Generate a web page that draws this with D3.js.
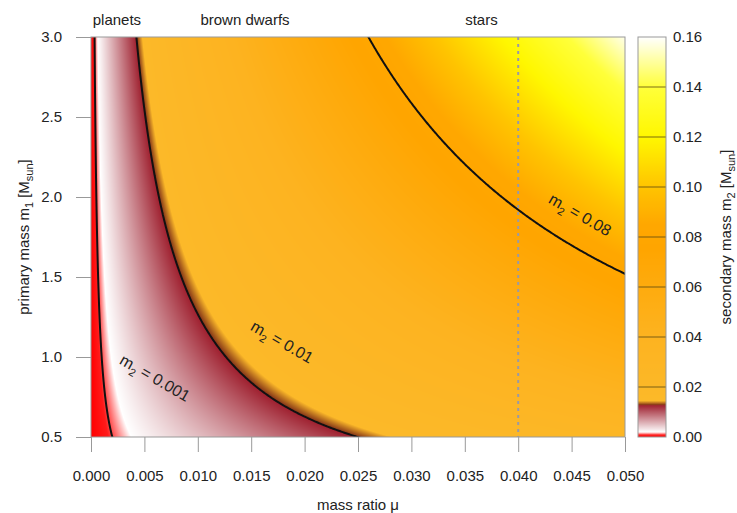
<!DOCTYPE html>
<html>
<head>
<meta charset="utf-8">
<script src="https://cdn.jsdelivr.net/npm/d3@7"></script>
<style>
  body { margin: 0; background: #fff; }
  svg text { font-family: "Liberation Sans", Arial, sans-serif; fill: #222; }
</style>
</head>
<body>
<svg id="chart" width="737" height="513"></svg>
<script>
// axis ticks
const muTicks = [0, 0.005, 0.010, 0.015, 0.020, 0.025, 0.030, 0.035, 0.040, 0.045, 0.050];
const m1Ticks = [0.5, 1.0, 1.5, 2.0, 2.5, 3.0];
const m2Ticks = [0, 0.02, 0.04, 0.06, 0.08, 0.10, 0.12, 0.14, 0.16];

// contour levels (about 1 Jupiter mass, deuterium limit, hydrogen limit) and their labels
const levels = [0.001, 0.0128, 0.08];
const levelNames = ["0.001", "0.01", "0.08"];
const levelLabelMu = [0.0060, 0.0179, 0.0458];
const levelLabelM1 = [0.87, 1.095, 1.89];

// object classes above the plot
const regionNames = ["planets", "brown dwarfs", "stars"];
const regionMu = [0.00243, 0.01442, 0.03656];

// stellar limit marked by the dotted line
const limitMu = 0.04;

// colour map of secondary mass
const stopValues = [0, 0.0008, 0.0019, 0.0128, 0.0130, 0.0145, 0.04, 0.075, 0.085, 0.10, 0.12, 0.14, 0.16];
const stopColors = ["#ff0000", "#ff1a1a", "#ffffff", "#9e1f2e", "#8e4019", "#fcb929", "#fdb320",
                    "#ffa500", "#ffa700", "#ffc400", "#fff700", "#ffff3a", "#ffffff"];

// secondary mass from mass ratio mu = m2 / (m1 + m2)
function secondaryMass(mu, m1) { return mu * m1 / (1 - mu); }

const svg = d3.select('#chart');
const L = 91, R = 625, T = 37, B = 437;
const cbL = 638, cbR = 666;

const x = d3.scaleLinear().domain([0, 0.05]).range([L, R]);
const y = d3.scaleLinear().domain([0.5, 3.0]).range([B, T]);
const cbY = d3.scaleLinear().domain([0, 0.16]).range([B, T]);
const color = d3.scaleLinear().domain(stopValues).range(stopColors)
                .interpolate(d3.interpolateRgb).clamp(true);

// heat map drawn pixel by pixel into a canvas
const pw = R - L, ph = B - T;
const canvas = document.createElement('canvas');
canvas.width = pw; canvas.height = ph;
const ctx = canvas.getContext('2d');
const img = ctx.createImageData(pw, ph);
for (let j = 0; j < ph; j++) {
    const m1 = y.invert(T + j + 0.5);
    for (let i = 0; i < pw; i++) {
        const mu = x.invert(L + i + 0.5);
        const c = d3.rgb(color(secondaryMass(mu, m1)));
        const k = (j * pw + i) * 4;
        img.data[k] = c.r; img.data[k + 1] = c.g; img.data[k + 2] = c.b; img.data[k + 3] = 255;
    }
}
ctx.putImageData(img, 0, 0);
svg.append('image')
    .attr('x', L).attr('y', T)
    .attr('width', pw).attr('height', ph)
    .attr('preserveAspectRatio', 'none')
    .attr('href', canvas.toDataURL());

// contour lines on a grid a bit larger than the plot, clipped to it
svg.append('clipPath').attr('id', 'plotclip')
    .append('rect').attr('x', L).attr('y', T).attr('width', pw).attr('height', ph);

const nx = 360, ny = 260;
const mu0 = -0.002, mu1 = 0.052, mA = 0.4, mB = 3.1;
const dmu = (mu1 - mu0) / (nx - 1), dm = (mB - mA) / (ny - 1);
const grid = new Array(nx * ny);
for (let j = 0; j < ny; j++) {
    for (let i = 0; i < nx; i++) {
        grid[j * nx + i] = secondaryMass(mu0 + i * dmu, mA + j * dm);
    }
}
const contours = d3.contours().size([nx, ny]).thresholds(levels)(grid);
const toScreen = d3.geoTransform({
    point: function(px, py) {
        this.stream.point(x(mu0 + (px - 0.5) * dmu), y(mA + (py - 0.5) * dm));
    }
});
svg.append('g').attr('clip-path', 'url(#plotclip)')
    .selectAll('path').data(contours).join('path')
    .attr('d', d3.geoPath(toScreen))
    .attr('fill', 'none')
    .attr('stroke', '#111')
    .attr('stroke-width', 2);

// dotted stellar limit
svg.append('line')
    .attr('x1', x(limitMu)).attr('x2', x(limitMu))
    .attr('y1', T).attr('y2', B)
    .attr('stroke', '#9a9aa6').attr('stroke-width', 2)
    .attr('stroke-dasharray', '3,4');

// plot box
svg.append('rect')
    .attr('x', L).attr('y', T).attr('width', pw).attr('height', ph)
    .attr('fill', 'none').attr('stroke', '#999').attr('stroke-width', 1);

// contour labels
levelNames.forEach(function(name, i) {
    const t = svg.append('text')
        .attr('transform', `translate(${x(levelLabelMu[i])},${y(levelLabelM1[i])}) rotate(30)`)
        .attr('text-anchor', 'middle')
        .attr('dy', '0.35em')
        .style('font-size', '16px');
    t.append('tspan').text('m');
    t.append('tspan').attr('dy', 5).style('font-size', '11px').text('2');
    t.append('tspan').attr('dy', -5).text(' = ' + name);
});

// x axis
const xAxis = svg.append('g').attr('transform', `translate(0,${B})`)
    .call(d3.axisBottom(x).tickValues(muTicks).tickFormat(d3.format('.3f'))
          .tickSize(15).tickPadding(18));
// y axis
const yAxis = svg.append('g').attr('transform', `translate(${L},0)`)
    .call(d3.axisLeft(y).tickValues(m1Ticks).tickFormat(d3.format('.1f'))
          .tickSize(15).tickPadding(14));
[xAxis, yAxis].forEach(function(a) {
    a.select('.domain').remove();
    a.selectAll('.tick line').attr('stroke', '#999');
    a.selectAll('.tick text').style('font-size', '15px').attr('fill', '#222')
        .style('font-family', '"Liberation Sans", Arial, sans-serif');
});

// axis titles
svg.append('text')
    .attr('x', (L + R) / 2).attr('y', 510)
    .attr('text-anchor', 'middle').style('font-size', '15px')
    .text('mass ratio μ');

const yt = svg.append('text')
    .attr('transform', `translate(29,${(T + B) / 2}) rotate(-90)`)
    .attr('text-anchor', 'middle').style('font-size', '15px');
yt.append('tspan').text('primary mass m');
yt.append('tspan').attr('dy', 4).style('font-size', '11px').text('1');
yt.append('tspan').attr('dy', -4).text(' [M');
yt.append('tspan').attr('dy', 4).style('font-size', '11px').text('sun');
yt.append('tspan').attr('dy', -4).text(']');

// region names above the plot
regionNames.forEach(function(name, i) {
    svg.append('text')
        .attr('x', x(regionMu[i])).attr('y', 25)
        .attr('text-anchor', 'middle').style('font-size', '15px')
        .text(name);
});

// colour bar
const grad = svg.append('defs').append('linearGradient')
    .attr('id', 'cbgrad')
    .attr('x1', 0).attr('y1', 1).attr('x2', 0).attr('y2', 0);
d3.range(0, 321).forEach(function(k) {
    const v = k / 2000;
    grad.append('stop').attr('offset', v / 0.16).attr('stop-color', color(v));
});
svg.append('rect')
    .attr('x', cbL).attr('y', T).attr('width', cbR - cbL).attr('height', ph)
    .attr('fill', 'url(#cbgrad)');
svg.append('g').selectAll('line')
    .data(m2Ticks.slice(1, -1)).join('line')
    .attr('x1', cbL).attr('x2', cbR)
    .attr('y1', d => cbY(d)).attr('y2', d => cbY(d))
    .attr('stroke', '#5a4a10').attr('stroke-opacity', 0.8).attr('stroke-width', 1);
svg.append('rect')
    .attr('x', cbL).attr('y', T).attr('width', cbR - cbL).attr('height', ph)
    .attr('fill', 'none').attr('stroke', '#999').attr('stroke-width', 1);
svg.append('g').selectAll('text')
    .data(m2Ticks).join('text')
    .attr('x', 673).attr('y', d => cbY(d))
    .attr('dy', '0.35em').style('font-size', '15px')
    .text(d3.format('.2f'));

const ct = svg.append('text')
    .attr('transform', `translate(731,${(T + B) / 2}) rotate(-90)`)
    .attr('text-anchor', 'middle').style('font-size', '15px');
ct.append('tspan').text('secondary mass m');
ct.append('tspan').attr('dy', 4).style('font-size', '11px').text('2');
ct.append('tspan').attr('dy', -4).text(' [M');
ct.append('tspan').attr('dy', 4).style('font-size', '11px').text('sun');
ct.append('tspan').attr('dy', -4).text(']');
</script>
</body>
</html>
